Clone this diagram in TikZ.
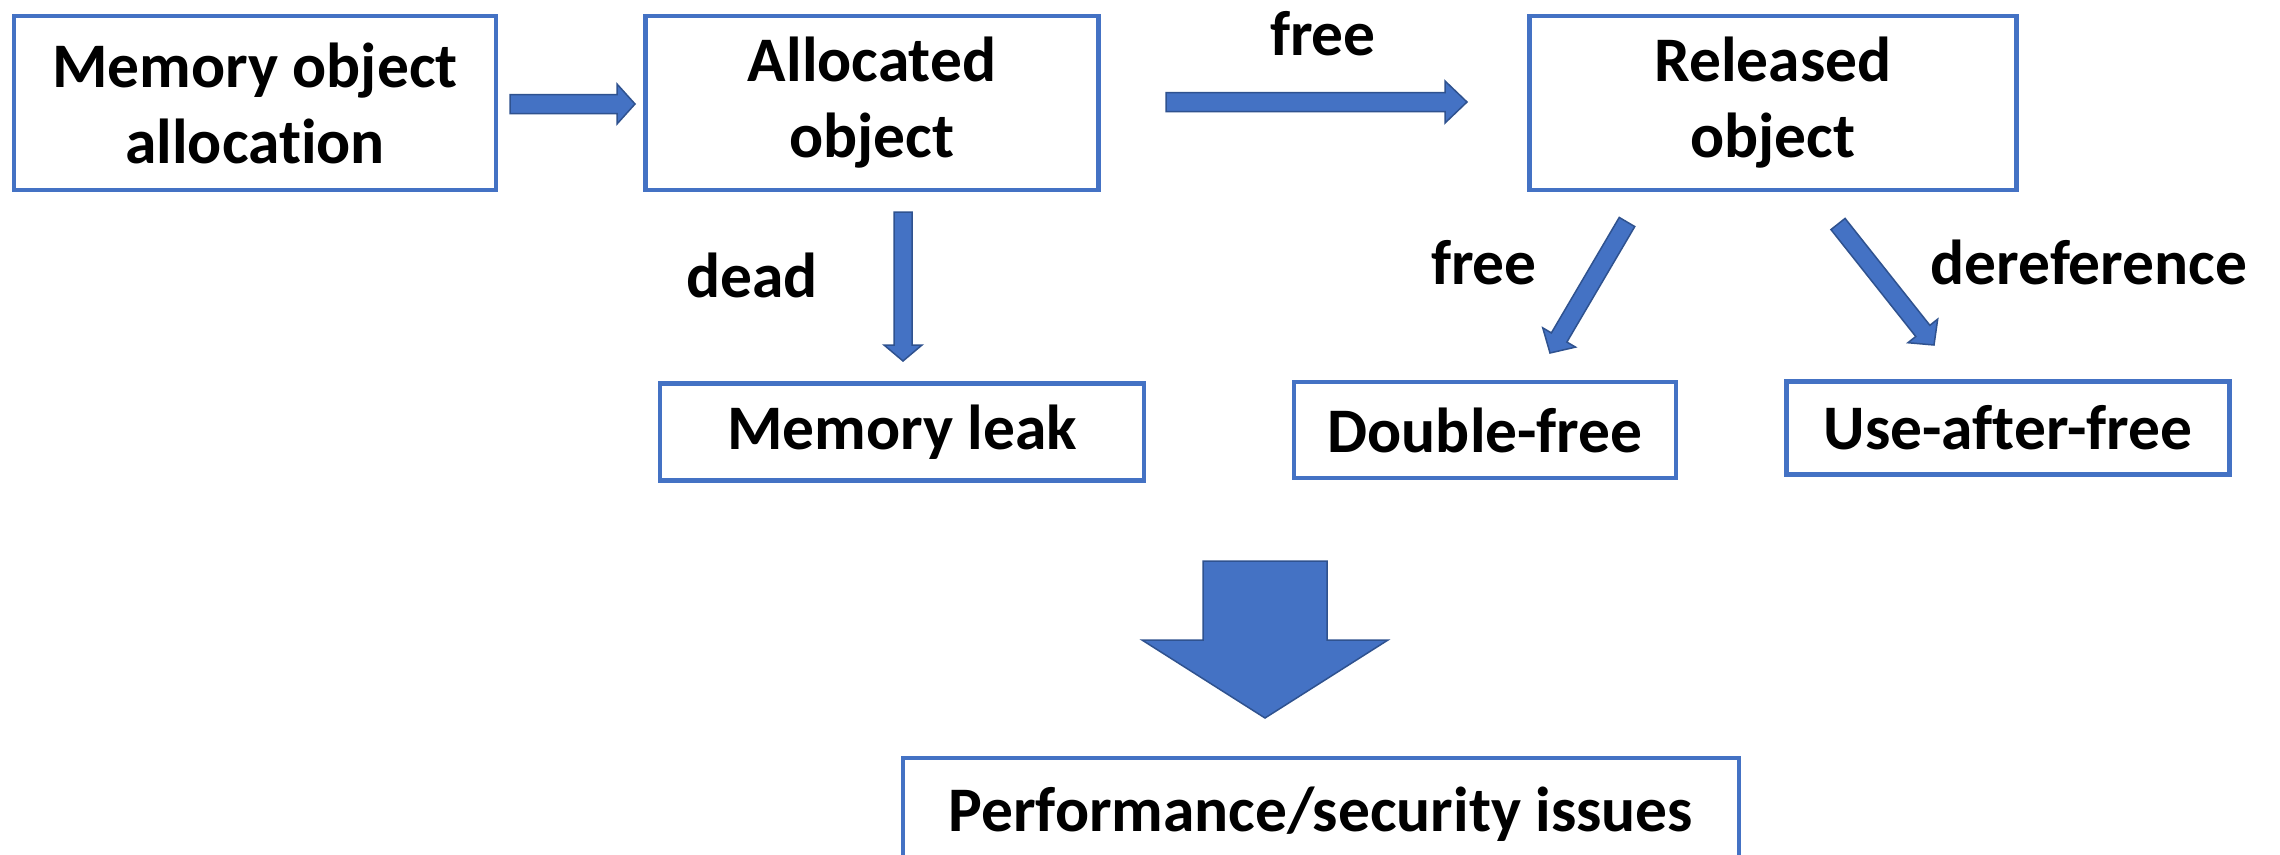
\documentclass[tikz,border=0pt]{standalone}
\usepackage{fontspec}
\setmainfont{Carlito}[Ligatures=NoCommon]
\usetikzlibrary{calc}
\definecolor{boxblue}{HTML}{4472C4}
\definecolor{arrowedge}{HTML}{2F528F}
\tikzset{
  box/.style={draw=boxblue, line width=4.5pt, fill=white, align=center, inner sep=0pt,
    font=\fontsize{63.5}{76}\selectfont\bfseries},
  lbl/.style={anchor=base, inner sep=0pt, font=\fontsize{63.5}{76}\selectfont\bfseries},
  blockarrow/.style={draw=arrowedge, fill=boxblue, line width=1.5pt, line join=miter}
}
% #1 start, #2 tip, #3 shaft half width, #4 head half width, #5 head length
\newcommand\blockarr[5]{%
  \coordinate (hb) at ($(#2)!#5!(#1)$);
  \draw[blockarrow] ($(#1)!#3!90:(#2)$) -- ($(hb)!#3!-90:(#1)$) -- ($(hb)!#4!-90:(#1)$) -- (#2)
     -- ($(hb)!#4!90:(#1)$) -- ($(hb)!#3!90:(#1)$) -- ($(#1)!#3!-90:(#2)$) -- cycle;
}
\begin{document}
\begin{tikzpicture}[x=1pt,y=-1pt]
\useasboundingbox (0,0) rectangle (2280,854);
\fill[white] (0,0) rectangle (2280,854);
% boxes
\node[box, minimum width=482pt, minimum height=174pt] (alloc) at (255,103) {Memory object\\allocation};
\node[box, minimum width=453pt, minimum height=174pt] (allocated) at (872,103) {Allocated\\object};
\node[box, minimum width=487pt, minimum height=174pt] (released) at (1773,103) {Released\\object};
\node[box, minimum width=484pt, minimum height=97pt] (leak) at (902,432) {Memory leak};
\node[box, minimum width=382pt, minimum height=96pt] (double) at (1485,430) {Double-free};
\node[box, minimum width=443pt, minimum height=93pt] (uaf) at (2008,428) {Use-after-free};
\node[box, minimum width=836pt, minimum height=112pt] (perf) at (1321,814) {Performance/security issues};
% arrow end points
\coordinate (a1s) at (510,104);   \coordinate (a1e) at (635,104);
\coordinate (a2s) at (1166,102);  \coordinate (a2e) at (1467,102);
\coordinate (a3s) at (903,212);   \coordinate (a3e) at (903,361);
\coordinate (a4s) at (1627,222);  \coordinate (a4e) at (1550,353);
\coordinate (a5s) at (1838,224);  \coordinate (a5e) at (1934,345);
\coordinate (a6s) at (1265,561);  \coordinate (a6e) at (1265,718);
\blockarr{a1s}{a1e}{9.5pt}{20pt}{18pt}
\blockarr{a2s}{a2e}{9.5pt}{21pt}{22pt}
\blockarr{a3s}{a3e}{9pt}{19pt}{16pt}
\blockarr{a4s}{a4e}{9pt}{19pt}{18pt}
\blockarr{a5s}{a5e}{9pt}{19pt}{18pt}
\blockarr{a6s}{a6e}{62pt}{123pt}{78pt}
% labels
\node[lbl] (lfree) at (1323,55) {free};
\node[lbl] (ldead) at (752,297) {dead};
\node[lbl] (lfree2) at (1484,284) {free};
\node[lbl] (lderef) at (2089,284) {dereference};
\end{tikzpicture}
\end{document}
